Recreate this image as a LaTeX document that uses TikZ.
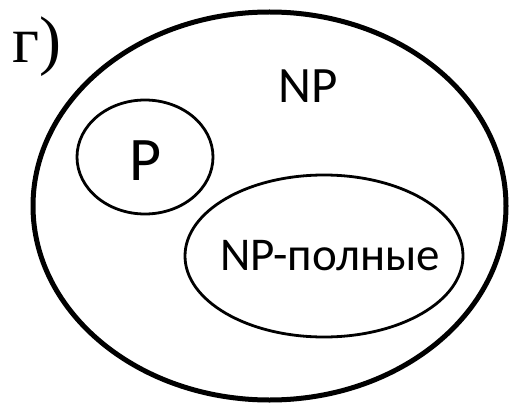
\documentclass[tikz,border=0pt]{standalone}
\usepackage{fontspec}
\setmainfont{Carlito}
\newfontfamily\letterfont{Liberation Serif}
\usepackage{tikz}
\usetikzlibrary{calc}

\begin{document}
\begin{tikzpicture}[x=1pt,y=1pt,
		outer/.style={line width=5pt},
		inner/.style={line width=2.8pt}]
			\useasboundingbox (0,0) rectangle (511,405);
			
			% Outer set NP
			\draw[outer] (269.5,199) ellipse (236.5 and 194);
			\node[anchor=base] (np) at (308,302) {\fontsize{51}{51}\selectfont NP};
			
			% Inner sets
			\draw[inner] (145,248) ellipse (68 and 57);
			\node[anchor=base] (p) at (146,225) {\fontsize{62}{62}\selectfont P};
			\draw[inner] (324,149) ellipse (139 and 81);
			\node[anchor=base] (npc) at (330,135) {\fontsize{47}{47}\selectfont NP-полные};
			
			% Label
			\node[anchor=base west,inner sep=0pt] (g) at (12,342) {\letterfont\fontsize{66}{66}\selectfont г)};
		\end{tikzpicture}
\end{document}
